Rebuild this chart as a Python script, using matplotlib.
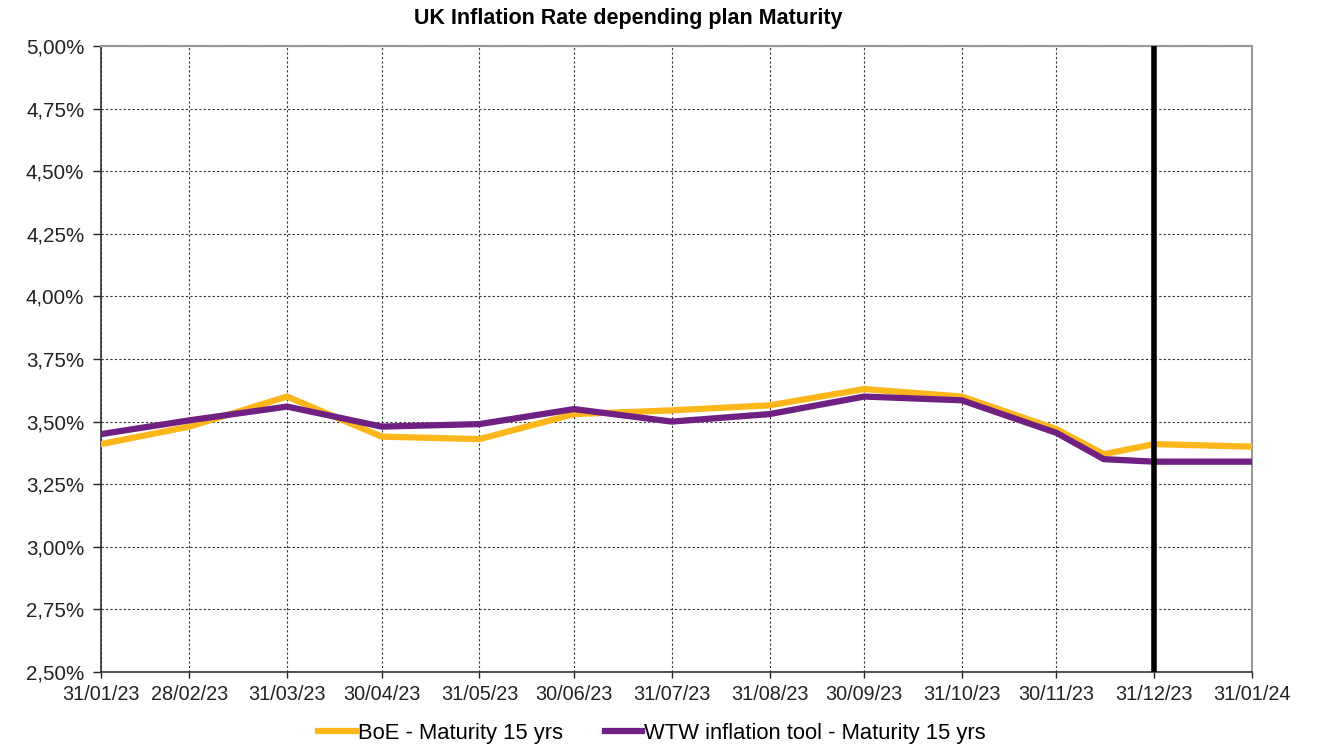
import matplotlib
matplotlib.use("Agg")
from matplotlib import pyplot as plt
import matplotlib.dates as mdates
from matplotlib.ticker import FuncFormatter
import pandas as pd

plt.rcParams['font.family'] = ['Liberation Sans', 'DejaVu Sans']

dates = pd.to_datetime(['2023-01-31', '2023-02-28', '2023-03-31', '2023-04-30', '2023-05-31',
                        '2023-06-30', '2023-07-31', '2023-08-31', '2023-09-30', '2023-10-31',
                        '2023-11-30', '2023-12-15', '2023-12-31', '2024-01-31'])
boe = [3.41, 3.48, 3.60, 3.44, 3.43, 3.53, 3.545, 3.565, 3.63, 3.60, 3.47, 3.37, 3.41, 3.40]
wtw = [3.45, 3.505, 3.56, 3.48, 3.49, 3.55, 3.50, 3.53, 3.60, 3.585, 3.455, 3.35, 3.34, 3.34]

tick_dates = pd.to_datetime(['2023-01-31', '2023-02-28', '2023-03-31', '2023-04-30', '2023-05-31',
                             '2023-06-30', '2023-07-31', '2023-08-31', '2023-09-30', '2023-10-31',
                             '2023-11-30', '2023-12-31', '2024-01-31'])
marker_date = pd.Timestamp('2023-12-31')

fig = plt.figure(figsize=(13.2, 7.45), dpi=100)
ax = fig.add_axes([101/1320, 1 - 672/745, (1252-101)/1320, (672-46)/745])

ax.plot(dates, boe, color='#FDB71A', lw=4.5, label='BoE - Maturity 15 yrs', zorder=3)
ax.plot(dates, wtw, color='#702082', lw=4.5, label='WTW inflation tool - Maturity 15 yrs', zorder=4)
ax.axvline(marker_date, color='black', lw=4, zorder=5)

ax.set_xlim(tick_dates[0], tick_dates[-1])
ax.set_ylim(2.5, 5.0)
ax.set_xticks(tick_dates)
ax.xaxis.set_major_formatter(mdates.DateFormatter('%d/%m/%y'))
ax.set_yticks([2.5 + 0.25*i for i in range(11)])
ax.yaxis.set_major_formatter(FuncFormatter(lambda v, p: ('%.2f%%' % v).replace('.', ',')))
ax.tick_params(width=1, direction='out', colors='#222222')
ax.tick_params(axis='x', labelsize=14.3, pad=5, length=4)
ax.tick_params(axis='y', labelsize=14.8, pad=6, length=6)
ax.grid(True, color='#333333', ls=(0, (2, 2)), lw=0.8)

for s in ['left', 'bottom']:
    ax.spines[s].set_color('#333333')
    ax.spines[s].set_linewidth(1.2)
for s in ['top', 'right']:
    ax.spines[s].set_color('#999999')
    ax.spines[s].set_linewidth(1.5)

fig.suptitle('UK Inflation Rate depending plan Maturity', x=628/1320, y=1 - 18.5/745, va='center',
             fontsize=15.5, fontweight='bold')
fig.legend(loc='center', bbox_to_anchor=(652/1320, 1 - 733/745), ncol=2, frameon=False,
           fontsize=15.8, handlelength=1.7, handletextpad=0.1, columnspacing=1.9)

fig.savefig('out.png', dpi=100)
